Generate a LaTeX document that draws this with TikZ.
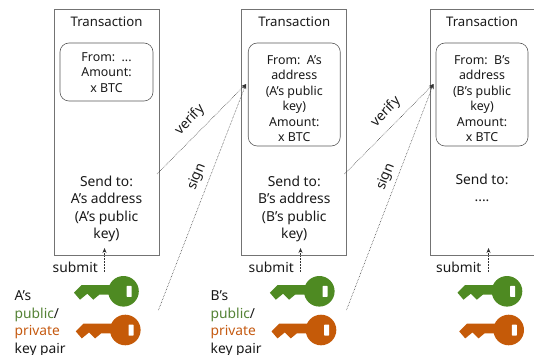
\documentclass[tikz,border=0pt]{standalone}
\usepackage{fontspec}
\setmainfont{Noto Sans}
\usetikzlibrary{arrows.meta}
\definecolor{keygreen}{HTML}{4E8A22}
\definecolor{keyorange}{HTML}{C55A08}
\definecolor{txtgreen}{HTML}{548235}
\definecolor{txtorange}{HTML}{C55A11}
\tikzset{
  x=1pt,y=-1pt,
  txbox/.style={draw=black!55,line width=0.9pt,minimum height=246pt,inner sep=0pt},
  inbox/.style={draw=black!65,line width=0.6pt,rounded corners=9pt,inner sep=0pt},
  head/.style={font=\fontsize{13.2}{17}\selectfont,align=center,text=black!90,inner sep=0pt},
  body/.style={font=\fontsize{13.8}{17.6}\selectfont,align=center,text=black!90,inner sep=0pt},
  small/.style={font=\fontsize{12.4}{15.5}\selectfont,align=center,text=black!90,inner sep=0pt},
  flow/.style={densely dotted,line width=0.55pt,draw=black!80,-{Stealth[length=5pt,width=4pt]}},
  keypic/.pic={
    \fill[pic actions]
      (-49.5,1.4) -- (-41.8,-6.3) -- (-10,-6.3) -- (-10,3.4) -- (-24.2,3.4) -- (-30.2,8.4) -- (-36.2,2.4) -- (-43.5,8.4) -- cycle;
    \fill[pic actions] (0,0) circle[radius=15.3];
    \fill[white,rounded corners=0.6pt] (3.2,-5.4) rectangle (8.2,5.6);
  }
}
\begin{document}
\begin{tikzpicture}
\clip (0,0) rectangle (534,355);
\node[txbox,minimum width=105pt] (t1) at (106.5,132) {};
\node[txbox,minimum width=105pt] (t2) at (294.25,132) {};
\node[txbox,minimum width=110pt] (t3) at (485,132) {};
\node[head] (h1) at (106.5,22) {Transaction};
\node[head] (h2) at (294.25,22) {Transaction};
\node[head] (h3) at (482,22) {Transaction};
\node[inbox,minimum width=93pt,minimum height=58pt] (b1) at (106.5,72) {};
\node[inbox,minimum width=92pt,minimum height=103pt] (b2) at (294.25,94.5) {};
\node[inbox,minimum width=92pt,minimum height=103pt] (b3) at (482,94.5) {};
\node[small] (f1) at (106.5,72.5) {From:\ \ ...\\Amount:\\x BTC};
\node[small] (f2) at (294.25,98.5) {From:\ \ A's\\address\\(A's public\\key)\\Amount:\\x BTC};
\node[small] (f3) at (482,98.5) {From:\ \ B's\\address\\(B's public\\key)\\Amount:\\x BTC};
\node[body] (s1) at (106.5,209) {Send to:\\A's address\\(A's public\\key)};
\node[body] (s2) at (294.25,209) {Send to:\\B's address\\(B's public\\key)};
\node[body,anchor=north] (s3) at (482,173.5) {Send to:\\....};
\node[body,anchor=east] (u1) at (98,267) {submit};
\node[body,anchor=east] (u2) at (294,267) {submit};
\node[body,anchor=east] (u3) at (481.5,267) {submit};
\node[body,anchor=north west,align=left] (p1) at (14.5,290.5) {A's\\\textcolor{txtgreen}{public}/\\\textcolor{txtorange}{private}\\key pair};
\node[body,anchor=north west,align=left] (p2) at (210.5,290.5) {B's\\\textcolor{txtgreen}{public}/\\\textcolor{txtorange}{private}\\key pair};
\pic[keygreen] at (123.5,291.3) {keypic};
\pic[keyorange] at (125.3,330) {keypic};
\pic[keygreen] at (319.3,291.3) {keypic};
\pic[keyorange] at (321,330) {keypic};
\pic[keygreen] at (507,291.3) {keypic};
\pic[keyorange] at (508.7,330) {keypic};
\coordinate (v1) at (157,174);
\coordinate (v2) at (344.5,174);
\coordinate (g1) at (158.5,310);
\coordinate (g2) at (346.5,310);
\coordinate (e2) at (246,84);
\coordinate (e3) at (433.5,84);
\draw[flow] (v1) -- (e2);
\draw[flow] (g1) -- (e2);
\draw[flow] (v2) -- (e3);
\draw[flow] (g2) -- (e3);
\coordinate (a1) at (104.5,272);
\coordinate (c1) at (104.5,248);
\coordinate (a2) at (300.5,272);
\coordinate (c2) at (300.5,248);
\coordinate (a3) at (488.5,272);
\coordinate (c3) at (488.5,248);
\draw[flow] (a1) -- (c1);
\draw[flow] (a2) -- (c2);
\draw[flow] (a3) -- (c3);
\node[body,rotate=46] (l1) at (190,120) {verify};
\node[body,rotate=46] (l2) at (386,112) {verify};
\node[body,rotate=68] (l3) at (197,177) {sign};
\node[body,rotate=68] (l4) at (386,177) {sign};
\end{tikzpicture}
\end{document}
